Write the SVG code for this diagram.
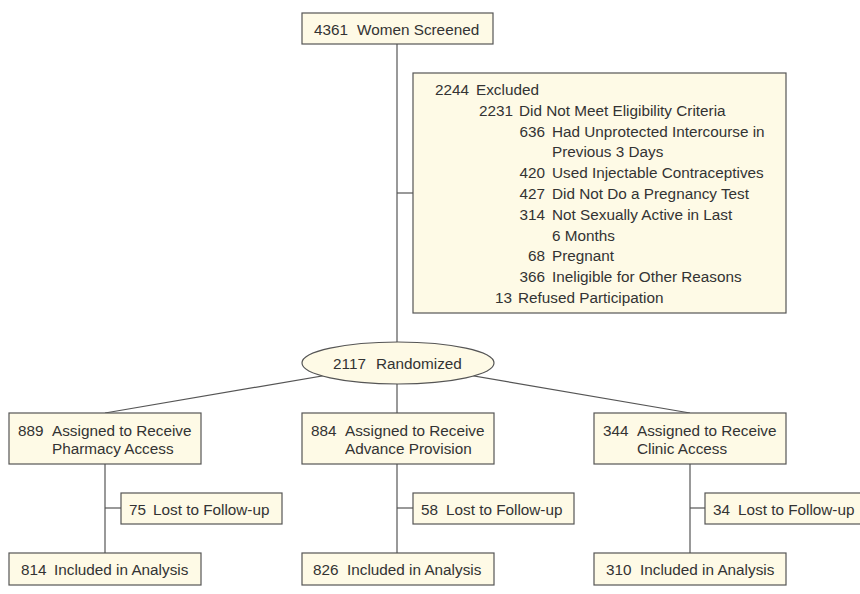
<svg xmlns="http://www.w3.org/2000/svg" width="860" height="594" viewBox="0 0 860 594">
<style>
  .box { fill: #fefae6; stroke: #555; stroke-width: 1.2; }
  .ln { stroke: #555; stroke-width: 1.2; fill: none; }
  text { font-family: "Liberation Sans", Arial, sans-serif; font-size: 15.3px; fill: #333; }
  .n { text-anchor: end; }
</style>
<rect width="860" height="594" fill="#ffffff"/>
<g id="connectors">
  <line class="ln" x1="397" y1="44" x2="397" y2="363"/>
  <line class="ln" x1="397" y1="193" x2="413" y2="193"/>
  <line class="ln" x1="398" y1="363" x2="105" y2="413"/>
  <line class="ln" x1="398" y1="363" x2="690" y2="413"/>
  <line class="ln" x1="397" y1="363" x2="397" y2="413"/>
  <line class="ln" x1="105" y1="464" x2="105" y2="553"/>
  <line class="ln" x1="105" y1="508" x2="121" y2="508"/>
  <line class="ln" x1="397" y1="464" x2="397" y2="553"/>
  <line class="ln" x1="397" y1="508" x2="413" y2="508"/>
  <line class="ln" x1="690" y1="464" x2="690" y2="553"/>
  <line class="ln" x1="690" y1="508" x2="705" y2="508"/>
</g>
<g id="screened">
  <rect class="box" x="302" y="13" width="191" height="31"/>
  <text x="314" y="35">4361</text><text x="357" y="35">Women Screened</text>
</g>
<g id="excluded">
  <rect class="box" x="413" y="73" width="373" height="240"/>
  <text class="n" x="469" y="95">2244</text><text x="476" y="95">Excluded</text>
  <text class="n" x="513" y="115.8">2231</text><text x="519" y="115.8">Did Not Meet Eligibility Criteria</text>
  <text class="n" x="545" y="136.6">636</text><text x="552" y="136.6">Had Unprotected Intercourse in</text>
  <text x="552" y="157.4">Previous 3 Days</text>
  <text class="n" x="545" y="178.2">420</text><text x="552" y="178.2">Used Injectable Contraceptives</text>
  <text class="n" x="545" y="199">427</text><text x="552" y="199">Did Not Do a Pregnancy Test</text>
  <text class="n" x="545" y="219.8">314</text><text x="552" y="219.8">Not Sexually Active in Last</text>
  <text x="552" y="240.6">6 Months</text>
  <text class="n" x="545" y="261.4">68</text><text x="552" y="261.4">Pregnant</text>
  <text class="n" x="545" y="282.2">366</text><text x="552" y="282.2">Ineligible for Other Reasons</text>
  <text class="n" x="512" y="303">13</text><text x="518" y="303">Refused Participation</text>
</g>
<g id="randomized">
  <ellipse class="box" cx="398" cy="363" rx="96" ry="21"/>
  <text x="333" y="369">2117</text><text x="376" y="369">Randomized</text>
</g>
<g id="pharmacy">
  <rect class="box" x="9" y="413" width="192" height="51"/>
  <text x="18" y="436">889</text><text x="52" y="436">Assigned to Receive</text>
  <text x="52" y="453.5">Pharmacy Access</text>
</g>
<g id="advance">
  <rect class="box" x="302" y="413" width="192" height="51"/>
  <text x="311" y="436">884</text><text x="345" y="436">Assigned to Receive</text>
  <text x="345" y="453.5">Advance Provision</text>
</g>
<g id="clinic">
  <rect class="box" x="594" y="413" width="192" height="51"/>
  <text x="603" y="436">344</text><text x="637" y="436">Assigned to Receive</text>
  <text x="637" y="453.5">Clinic Access</text>
</g>
<g id="lost1">
  <rect class="box" x="121" y="493" width="161" height="31"/>
  <text x="129" y="515">75</text><text x="153" y="515">Lost to Follow-up</text>
</g>
<g id="lost2">
  <rect class="box" x="413" y="493" width="161" height="31"/>
  <text x="421" y="515">58</text><text x="446" y="515">Lost to Follow-up</text>
</g>
<g id="lost3">
  <rect class="box" x="705" y="493" width="161" height="31"/>
  <text x="713" y="515">34</text><text x="738" y="515">Lost to Follow-up</text>
</g>
<g id="analysis1">
  <rect class="box" x="9" y="553" width="192" height="32"/>
  <text x="21" y="575">814</text><text x="54" y="575">Included in Analysis</text>
</g>
<g id="analysis2">
  <rect class="box" x="302" y="553" width="192" height="32"/>
  <text x="313" y="575">826</text><text x="347" y="575">Included in Analysis</text>
</g>
<g id="analysis3">
  <rect class="box" x="594" y="553" width="192" height="32"/>
  <text x="606" y="575">310</text><text x="640" y="575">Included in Analysis</text>
</g>
</svg>
